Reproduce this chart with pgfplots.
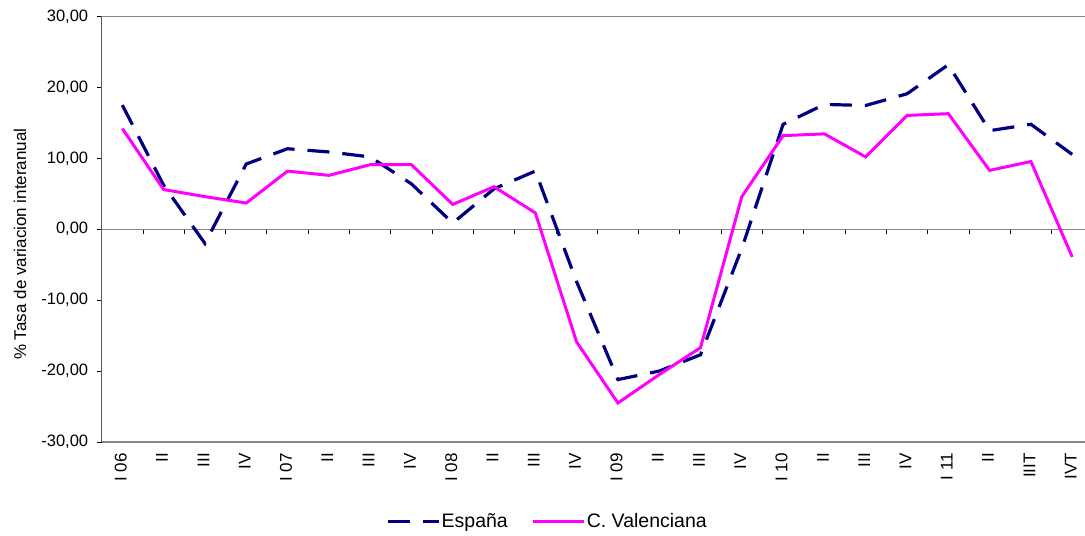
\documentclass[border=0pt]{standalone}
\usepackage{pgfplots}
\pgfplotsset{compat=1.18}
\usepackage{fontspec}
\setmainfont{Liberation Sans}
\definecolor{esp}{RGB}{0,0,128}
\definecolor{cv}{RGB}{255,0,255}
\definecolor{axgray}{RGB}{134,134,134}
\definecolor{axdark}{RGB}{90,90,90}
\pgfplotstableread{
x esp cv
0 17.5 14.2
1 6.2 5.6
2 -2.0 4.6
3 9.2 3.7
4 11.35 8.2
5 10.9 7.6
6 10.2 9.1
7 6.4 9.1
8 0.87 3.5
9 5.7 6.0
10 8.2 2.3
11 -7.4 -15.9
12 -21.2 -24.5
13 -20.0 -20.5
14 -17.7 -16.7
15 -2.7 4.6
16 14.8 13.2
17 17.6 13.45
18 17.45 10.2
19 19.1 16.05
20 23.2 16.3
21 13.9 8.3
22 14.8 9.55
23 10.55 -3.9
}\datatable
\begin{document}
\begin{tikzpicture}
% zero line with category boundary ticks
\begin{axis}[
 scale only axis, width=983.3pt, height=425.5pt,
 xmin=-0.5, xmax=23.31, ymin=-30, ymax=30,
 axis x line=middle, axis y line=none,
 x axis line style={-, draw=axgray, line width=1.2pt},
 xtick={0.5,1.5,...,22.5}, xticklabels={}, ytick=\empty,
 tick align=outside, major tick length=5pt,
 x tick style={black, line width=0.8pt},
]
\end{axis}
\begin{axis}[
 scale only axis, width=983.3pt, height=425.5pt,
 xmin=-0.5, xmax=23.31, ymin=-30, ymax=30,
 axis x line=box, axis y line=left,
 x axis line style={-, draw=axgray, line width=1.2pt},
 y axis line style={-, draw=axdark, line width=1.2pt},
 xtick={0,...,23},
 xticklabels={I 06,II,III,IV,I 07,II,III,IV,I 08,II,III,IV,I 09,II,III,IV,I 10,II,III,IV,I 11,II,IIIT,IVT},
 x tick style={draw=none},
 ytick={-30,-20,...,30}, ytick pos=left, tick align=outside, major tick length=5pt,
 y tick style={black, line width=0.8pt},
 yticklabel style={font=\fontsize{16.5}{19}\selectfont, xshift=-5pt, /pgf/number format/.cd, fixed, fixed zerofill, precision=2, use comma, 1000 sep={}, assume math mode=true},
 xticklabel style={font=\fontsize{17}{20}\selectfont, yshift=-6pt, xshift=-1.5pt, rotate=90, anchor=east, inner sep=0pt},
 ylabel={\% Tasa de variacion interanual},
 ylabel style={font=\fontsize{17}{20}\selectfont, at={(axis description cs:-0.0831,0.465)}, anchor=center},
 legend style={at={(axis description cs:0.453,-0.186)}, anchor=center, draw=none, fill=none,
   legend columns=2, font=\fontsize{19.5}{23}\selectfont,
   /tikz/every even column/.append style={column sep=22pt},
   nodes={inner sep=1.5pt}},
 legend image code/.code={\draw[#1] (0pt,0pt) -- (51pt,0pt);},
 clip=false,
]
\coordinate (bl) at (rel axis cs:0,0);
\coordinate (tr) at (rel axis cs:1,1);
\addplot[esp, line width=3.2pt, dash pattern=on 22pt off 13pt] table[x=x, y=esp] {\datatable};
\addlegendentry{España}
\addplot[cv, line width=3pt] table[x=x, y=cv] {\datatable};
\addlegendentry{C. Valenciana}
\end{axis}
\pgfresetboundingbox
\path[use as bounding box] ([xshift=-101.7pt,yshift=-94pt]bl) rectangle ([yshift=16.5pt]tr);
\end{tikzpicture}
\end{document}
